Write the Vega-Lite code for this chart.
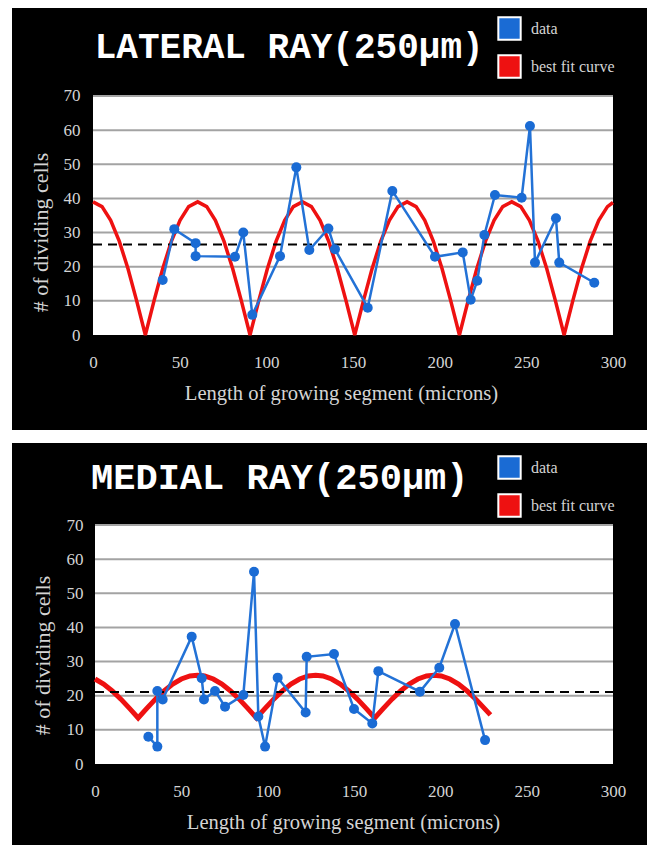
{
  "$schema": "https://vega.github.io/schema/vega-lite/v6.json",
  "background": "white",
  "padding": {"left": 12, "top": 8, "right": 0, "bottom": 0},
  "spacing": 13,
  "datasets": {
    "grid": [{"g": 10}, {"g": 20}, {"g": 30}, {"g": 40}, {"g": 50}, {"g": 60}, {"g": 70}],
    "one": [{"k": 1}],
    "latData": [
      {"i": 1, "x": 40.2, "y": 16.1}, {"i": 2, "x": 46.9, "y": 31.0}, {"i": 3, "x": 59.2, "y": 26.9},
      {"i": 4, "x": 59.2, "y": 23.1}, {"i": 5, "x": 81.9, "y": 22.9}, {"i": 6, "x": 86.7, "y": 30.0},
      {"i": 7, "x": 91.9, "y": 5.9}, {"i": 8, "x": 107.9, "y": 23.1}, {"i": 9, "x": 117.3, "y": 49.1},
      {"i": 10, "x": 124.8, "y": 24.9}, {"i": 11, "x": 135.8, "y": 31.2}, {"i": 12, "x": 139.6, "y": 25.1},
      {"i": 13, "x": 158.5, "y": 8.0}, {"i": 14, "x": 172.7, "y": 42.2}, {"i": 15, "x": 197.3, "y": 22.9},
      {"i": 16, "x": 213.3, "y": 24.2}, {"i": 17, "x": 217.9, "y": 10.3}, {"i": 18, "x": 221.7, "y": 15.9},
      {"i": 19, "x": 225.8, "y": 29.3}, {"i": 20, "x": 231.9, "y": 41.0}, {"i": 21, "x": 247.3, "y": 40.2},
      {"i": 22, "x": 252.1, "y": 61.2}, {"i": 23, "x": 255.0, "y": 21.2}, {"i": 24, "x": 267.1, "y": 34.2},
      {"i": 25, "x": 269.0, "y": 21.2}, {"i": 26, "x": 289.2, "y": 15.3}
    ],
    "latFit": [
      {"x": 0, "y": 39}, {"x": 5.2, "y": 37.6}, {"x": 10.2, "y": 33.6}, {"x": 15.2, "y": 27.4}, {"x": 20.2, "y": 19.4}, {"x": 25.2, "y": 10.0},
      {"x": 30.2, "y": 0}, {"x": 35.2, "y": 10.0}, {"x": 40.2, "y": 19.4}, {"x": 45.2, "y": 27.4}, {"x": 50.2, "y": 33.6}, {"x": 55.2, "y": 37.6},
      {"x": 60.4, "y": 39}, {"x": 65.6, "y": 37.6}, {"x": 70.6, "y": 33.6}, {"x": 75.6, "y": 27.4}, {"x": 80.6, "y": 19.4}, {"x": 85.6, "y": 10.0},
      {"x": 90.6, "y": 0}, {"x": 95.6, "y": 10.0}, {"x": 100.6, "y": 19.4}, {"x": 105.6, "y": 27.4}, {"x": 110.6, "y": 33.6}, {"x": 115.6, "y": 37.6},
      {"x": 120.8, "y": 39}, {"x": 126, "y": 37.6}, {"x": 131, "y": 33.6}, {"x": 136, "y": 27.4}, {"x": 141, "y": 19.4}, {"x": 146, "y": 10.0},
      {"x": 151, "y": 0}, {"x": 156, "y": 10.0}, {"x": 161, "y": 19.4}, {"x": 166, "y": 27.4}, {"x": 171, "y": 33.6}, {"x": 176, "y": 37.6},
      {"x": 181.2, "y": 39}, {"x": 186.4, "y": 37.6}, {"x": 191.4, "y": 33.6}, {"x": 196.4, "y": 27.4}, {"x": 201.4, "y": 19.4}, {"x": 206.4, "y": 10.0},
      {"x": 211.4, "y": 0}, {"x": 216.4, "y": 10.0}, {"x": 221.4, "y": 19.4}, {"x": 226.4, "y": 27.4}, {"x": 231.4, "y": 33.6}, {"x": 236.4, "y": 37.6},
      {"x": 241.6, "y": 39}, {"x": 246.8, "y": 37.6}, {"x": 251.8, "y": 33.6}, {"x": 256.8, "y": 27.4}, {"x": 261.8, "y": 19.4}, {"x": 266.8, "y": 10.0},
      {"x": 271.8, "y": 0}, {"x": 276.8, "y": 10.0}, {"x": 281.8, "y": 19.4}, {"x": 286.8, "y": 27.4}, {"x": 291.8, "y": 33.6}, {"x": 296.8, "y": 37.6},
      {"x": 300, "y": 38.8}
    ],
    "medData": [
      {"i": 1, "x": 30.9, "y": 8.0}, {"i": 2, "x": 36.1, "y": 5.1}, {"i": 3, "x": 36.1, "y": 21.4},
      {"i": 4, "x": 39.2, "y": 18.9}, {"i": 5, "x": 56.0, "y": 37.3}, {"i": 6, "x": 61.8, "y": 25.1},
      {"i": 7, "x": 63.1, "y": 18.9}, {"i": 8, "x": 69.5, "y": 21.4}, {"i": 9, "x": 75.3, "y": 16.8},
      {"i": 10, "x": 85.9, "y": 20.2}, {"i": 11, "x": 92.1, "y": 56.3}, {"i": 12, "x": 94.6, "y": 13.9},
      {"i": 13, "x": 98.5, "y": 5.1}, {"i": 14, "x": 105.8, "y": 25.3}, {"i": 15, "x": 122.0, "y": 15.1},
      {"i": 16, "x": 122.6, "y": 31.4}, {"i": 17, "x": 138.4, "y": 32.2}, {"i": 18, "x": 150.0, "y": 16.1},
      {"i": 19, "x": 160.6, "y": 11.9}, {"i": 20, "x": 164.1, "y": 27.2}, {"i": 21, "x": 188.2, "y": 21.2},
      {"i": 22, "x": 199.4, "y": 28.2}, {"i": 23, "x": 208.5, "y": 41.0}, {"i": 24, "x": 225.9, "y": 7.0}
    ],
    "medFit": [
      {"x": 0, "y": 24.9}, {"x": 5, "y": 23.4}, {"x": 10, "y": 21.4}, {"x": 15, "y": 19.0}, {"x": 20, "y": 16.3}, {"x": 25, "y": 13.5},
      {"x": 30, "y": 16.3}, {"x": 35, "y": 19.0}, {"x": 40, "y": 21.4}, {"x": 45, "y": 23.4}, {"x": 50, "y": 24.9}, {"x": 55, "y": 25.8},
      {"x": 59.3, "y": 26.0}, {"x": 63.5, "y": 25.8}, {"x": 68.5, "y": 24.9}, {"x": 73.5, "y": 23.4}, {"x": 78.5, "y": 21.4}, {"x": 83.5, "y": 19.0},
      {"x": 88.5, "y": 16.3}, {"x": 93.5, "y": 13.5}, {"x": 98.5, "y": 16.3}, {"x": 103.5, "y": 19.0}, {"x": 108.5, "y": 21.4}, {"x": 113.5, "y": 23.4},
      {"x": 118.5, "y": 24.9}, {"x": 123.5, "y": 25.8}, {"x": 127.8, "y": 26.0}, {"x": 132, "y": 25.8}, {"x": 137, "y": 24.9}, {"x": 142, "y": 23.4},
      {"x": 147, "y": 21.4}, {"x": 152, "y": 19.0}, {"x": 157, "y": 16.3}, {"x": 162, "y": 13.5}, {"x": 167, "y": 16.3}, {"x": 172, "y": 19.0},
      {"x": 177, "y": 21.4}, {"x": 182, "y": 23.4}, {"x": 187, "y": 24.9}, {"x": 192, "y": 25.8}, {"x": 196.3, "y": 26.0}, {"x": 200.5, "y": 25.8},
      {"x": 205.5, "y": 24.9}, {"x": 210.5, "y": 23.4}, {"x": 215.5, "y": 21.4}, {"x": 220.5, "y": 19.0}, {"x": 225.5, "y": 16.3}, {"x": 229, "y": 14.4}
    ]
  },
  "vconcat": [
    {
      "width": 635,
      "height": 422,
      "layer": [
        {
          "data": {"name": "one"},
          "mark": {"type": "rect", "color": "white"},
          "encoding": {
            "x": {"datum": 0, "type": "quantitative", "scale": {"domain": [-46.73, 319.62], "nice": false, "zero": false},
              "axis": {"values": [0, 50, 100, 150, 200, 250, 300], "offset": -95, "labelPadding": 19, "title": "Length of growing segment (microns)", "titleFontSize": 20.6, "titleX": 329, "titleY": 58, "titleBaseline": "middle"}},
            "x2": {"datum": 300},
            "y": {"datum": 0, "type": "quantitative", "scale": {"domain": [-27.82, 95.77], "nice": false, "zero": false},
              "axis": {"values": [0, 10, 20, 30, 40, 50, 60, 70], "offset": -81, "labelPadding": 13, "title": "# of dividing cells", "titleFontSize": 22, "titleX": -53, "titleY": 224, "titleBaseline": "middle", "titleAlign": "center"}},
            "y2": {"datum": 70}
          }
        },
        {
          "data": {"name": "grid"},
          "mark": {"type": "rule", "color": "#a3a3a3", "strokeWidth": 2},
          "encoding": {"x": {"datum": 0, "type": "quantitative"}, "x2": {"datum": 300}, "y": {"field": "g", "type": "quantitative"}}
        },
        {
          "data": {"name": "latFit"},
          "mark": {"type": "line", "strokeWidth": 3.5, "color": "#ee1111"},
          "encoding": {"x": {"field": "x", "type": "quantitative"}, "y": {"field": "y", "type": "quantitative"}}
        },
        {
          "data": {"name": "one"},
          "mark": {"type": "rule", "color": "black", "strokeWidth": 2, "strokeDash": [9, 6]},
          "encoding": {"x": {"datum": 0, "type": "quantitative"}, "x2": {"datum": 300}, "y": {"datum": 26.5, "type": "quantitative"}}
        },
        {
          "data": {"name": "latData"},
          "mark": {"type": "line", "strokeWidth": 2.5, "color": "#2372d6"},
          "encoding": {"x": {"field": "x", "type": "quantitative"}, "y": {"field": "y", "type": "quantitative"}, "order": {"field": "i"}}
        },
        {
          "data": {"name": "latData"},
          "mark": {"type": "point", "filled": true, "size": 100, "opacity": 1},
          "encoding": {
            "x": {"field": "x", "type": "quantitative"},
            "y": {"field": "y", "type": "quantitative"},
            "fill": {"datum": "data", "type": "nominal",
              "scale": {"domain": ["data", "best fit curve"], "range": ["#1a6bd4", "#ee1111"]},
              "legend": {"orient": "none", "legendX": 485, "legendY": 8, "symbolStrokeColor": "white", "symbolStrokeWidth": 2}}
          }
        },
        {
          "data": {"name": "one"},
          "mark": {"type": "text", "font": "Courier New, Liberation Mono, monospace", "fontSize": 36, "fontWeight": "bold", "color": "white", "align": "left", "baseline": "alphabetic"},
          "encoding": {"x": {"datum": 1.0, "type": "quantitative"}, "y": {"datum": 81.1, "type": "quantitative"}, "text": {"value": "LATERAL RAY(250µm)"}}
        }
      ]
    },
    {
      "width": 635,
      "height": 402,
      "layer": [
        {
          "data": {"name": "one"},
          "mark": {"type": "rect", "color": "white"},
          "encoding": {
            "x": {"datum": 0, "type": "quantitative", "scale": {"domain": [-48.07, 319.69], "nice": false, "zero": false},
              "axis": {"values": [0, 50, 100, 150, 200, 250, 300], "offset": -81, "labelPadding": 19, "title": "Length of growing segment (microns)", "titleFontSize": 20.6, "titleX": 331, "titleY": 58, "titleBaseline": "middle"}},
            "x2": {"datum": 300},
            "y": {"datum": 0, "type": "quantitative", "scale": {"domain": [-23.72, 94.02], "nice": false, "zero": false},
              "axis": {"values": [0, 10, 20, 30, 40, 50, 60, 70], "offset": -83, "labelPadding": 12, "title": "# of dividing cells", "titleFontSize": 22, "titleX": -53, "titleY": 212, "titleBaseline": "middle", "titleAlign": "center"}},
            "y2": {"datum": 70}
          }
        },
        {
          "data": {"name": "grid"},
          "mark": {"type": "rule", "color": "#a3a3a3", "strokeWidth": 2},
          "encoding": {"x": {"datum": 0, "type": "quantitative"}, "x2": {"datum": 300}, "y": {"field": "g", "type": "quantitative"}}
        },
        {
          "data": {"name": "medFit"},
          "mark": {"type": "line", "strokeWidth": 5, "color": "#ee1111"},
          "encoding": {"x": {"field": "x", "type": "quantitative"}, "y": {"field": "y", "type": "quantitative"}}
        },
        {
          "data": {"name": "one"},
          "mark": {"type": "rule", "color": "black", "strokeWidth": 2, "strokeDash": [9, 6]},
          "encoding": {"x": {"datum": 0, "type": "quantitative"}, "x2": {"datum": 300}, "y": {"datum": 21.1, "type": "quantitative"}}
        },
        {
          "data": {"name": "medData"},
          "mark": {"type": "line", "strokeWidth": 2.5, "color": "#2372d6"},
          "encoding": {"x": {"field": "x", "type": "quantitative"}, "y": {"field": "y", "type": "quantitative"}, "order": {"field": "i"}}
        },
        {
          "data": {"name": "medData"},
          "mark": {"type": "point", "filled": true, "size": 100, "opacity": 1},
          "encoding": {
            "x": {"field": "x", "type": "quantitative"},
            "y": {"field": "y", "type": "quantitative"},
            "fill": {"datum": "data", "type": "nominal",
              "scale": {"domain": ["data", "best fit curve"], "range": ["#1a6bd4", "#ee1111"]},
              "legend": {"orient": "none", "legendX": 485, "legendY": 12, "symbolStrokeColor": "white", "symbolStrokeWidth": 2}}
          }
        },
        {
          "data": {"name": "one"},
          "mark": {"type": "text", "font": "Courier New, Liberation Mono, monospace", "fontSize": 37, "fontWeight": "bold", "color": "white", "align": "left", "baseline": "alphabetic"},
          "encoding": {"x": {"datum": -2.3, "type": "quantitative"}, "y": {"datum": 80.5, "type": "quantitative"}, "text": {"value": "MEDIAL RAY(250µm)"}}
        }
      ]
    }
  ],
  "resolve": {"scale": {"x": "independent", "y": "independent", "fill": "independent"}},
  "config": {
    "view": {"stroke": null, "fill": "black"},
    "axis": {"domain": false, "ticks": false, "tickSize": 0, "grid": false, "labelFlush": false, "labelOverlap": false,
      "labelColor": "#d4d4d4", "titleColor": "#d4d4d4", "labelFont": "Liberation Serif", "titleFont": "Liberation Serif",
      "labelFontSize": 17, "titleFontSize": 20, "titleFontWeight": "normal"},
    "legend": {"title": null, "padding": 0, "symbolType": "square", "symbolSize": 500,
      "labelColor": "#d4d4d4", "labelFont": "Liberation Serif", "labelFontSize": 16, "labelOffset": 9, "rowPadding": 7}
  }
}
